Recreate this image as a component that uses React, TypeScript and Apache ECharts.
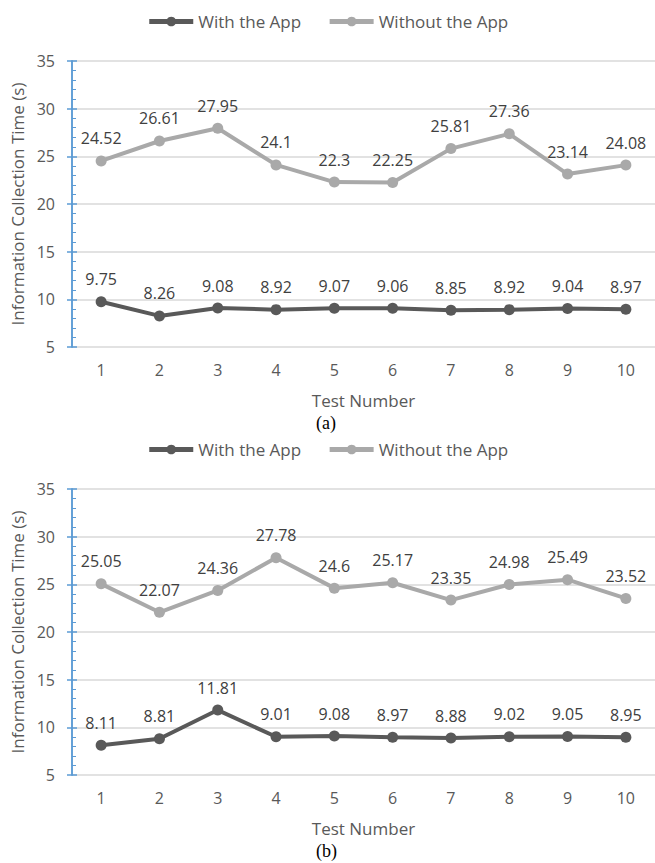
import React, { useEffect, useRef } from "react";
import * as echarts from "echarts";

const categories = ["1", "2", "3", "4", "5", "6", "7", "8", "9", "10"];
const seriesNames = ["With the App", "Without the App"];
const withAppA = [9.75, 8.26, 9.08, 8.92, 9.07, 9.06, 8.85, 8.92, 9.04, 8.97];
const withoutAppA = [24.52, 26.61, 27.95, 24.1, 22.3, 22.25, 25.81, 27.36, 23.14, 24.08];
const withAppB = [8.11, 8.81, 11.81, 9.01, 9.08, 8.97, 8.88, 9.02, 9.05, 8.95];
const withoutAppB = [25.05, 22.07, 24.36, 27.78, 24.6, 25.17, 23.35, 24.98, 25.49, 23.52];
const captions = ["(a)", "(b)"];
const yMin = 5;
const yMax = 35;
const yInterval = 5;

const FONT = "'Open Sans', sans-serif";
const DARK = "#595959";
const LIGHT = "#A9A9A9";
const BLUE = "#5B9BD5";
const TEXT = "#595959";

export default function App() {
  const ref = useRef<HTMLDivElement>(null);
  useEffect(() => {
    if (!ref.current) return;
    const chart = echarts.init(ref.current, undefined, { renderer: "svg" });
    const gridTops = [61, 489];
    const gridH = 286;
    const grids = gridTops.map((t) => ({ left: 72, top: t, width: 586, height: gridH }));
    const xAxes = gridTops.map((_, i) => ({
      type: "category",
      gridIndex: i,
      data: categories,
      boundaryGap: true,
      axisLine: { show: false },
      axisTick: { show: false },
      axisLabel: { fontFamily: FONT, fontSize: 16, color: TEXT, margin: 15 },
      name: "Test Number",
      nameLocation: "middle",
      nameGap: 45,
      nameTextStyle: { fontFamily: FONT, fontSize: 17, color: TEXT },
    }));
    const yAxes: any[] = [];
    gridTops.forEach((_, i) => {
      yAxes.push({
        type: "value",
        gridIndex: i,
        position: "left",
        min: yMin,
        max: yMax,
        interval: yInterval,
        axisLine: { show: true, lineStyle: { color: BLUE, width: 1.5 } },
        axisTick: { show: true, length: 5, lineStyle: { color: BLUE, width: 1.5 } },
        axisLabel: { fontFamily: FONT, fontSize: 16, color: TEXT, margin: 17 },
        splitLine: { show: true, lineStyle: { color: "#D9D9D9", width: 1.5 } },
        name: "Information Collection Time (s)",
        nameLocation: "middle",
        nameRotate: 90,
        nameGap: 44,
        nameTextStyle: { fontFamily: FONT, fontSize: 17, color: TEXT },
      });
    });
    gridTops.forEach((_, i) => {
      yAxes.push({
        type: "value",
        gridIndex: i,
        position: "left",
        offset: 0,
        min: yMin,
        max: yMax,
        interval: yInterval,
        axisLine: { show: true, lineStyle: { color: BLUE, width: 1.5 } },
        axisTick: { show: true, inside: true, length: 5, lineStyle: { color: BLUE, width: 1.5 } },
        minorTick: { show: true, splitNumber: 5, length: 4, lineStyle: { color: BLUE, width: 1 } },
        axisLabel: { show: false },
        splitLine: { show: false },
      });
    });
    const mkSeries = (name: string, data: number[], color: string, idx: number) => ({
      name,
      type: "line",
      xAxisIndex: idx,
      yAxisIndex: idx,
      data,
      symbol: "circle",
      symbolSize: 11,
      lineStyle: { color, width: 4 },
      itemStyle: { color },
      label: {
        show: true,
        position: "top",
        distance: 9,
        formatter: "{c}",
        fontFamily: FONT,
        fontSize: 16,
        color: "#404040",
      },
      z: name === seriesNames[0] ? 3 : 2,
    });
    const option: any = {
      animation: false,
      backgroundColor: "#ffffff",
      grid: grids,
      xAxis: xAxes,
      yAxis: yAxes,
      legend: gridTops.map((t) => ({
        data: seriesNames,
        top: t - 53,
        left: "center",
        itemWidth: 44,
        itemHeight: 12,
        itemGap: 26,
        lineStyle: { width: 5 },
        textStyle: { fontFamily: FONT, fontSize: 17, color: TEXT },
        selectedMode: false,
      })),
      series: [
        mkSeries(seriesNames[0], withAppA, DARK, 0),
        mkSeries(seriesNames[1], withoutAppA, LIGHT, 0),
        mkSeries(seriesNames[0], withAppB, DARK, 1),
        mkSeries(seriesNames[1], withoutAppB, LIGHT, 1),
      ],
      graphic: gridTops.map((t, i) => ({
        type: "text",
        left: 316,
        top: t + gridH + 67,
        style: {
          text: captions[i],
          font: "18px 'Liberation Serif', serif",
          fill: "#000000",
        },
      })),
    };
    chart.setOption(option);
    return () => chart.dispose();
  }, []);
  return (
    <div
      ref={ref}
      style={{ position: "absolute", left: 0, top: 0, width: 655, height: 863 }}
    />
  );
}
